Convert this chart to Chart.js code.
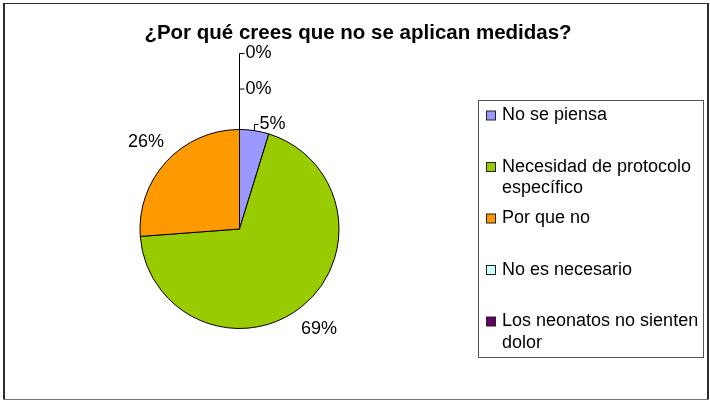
<!DOCTYPE html>
<html>
<head>
<meta charset="utf-8">
<script src="https://cdn.jsdelivr.net/npm/chart.js@4/dist/chart.umd.min.js"></script>
<style>
  html, body { margin: 0; padding: 0; background: #fff; }
  #wrap { width: 710px; height: 401px; position: relative; }
</style>
</head>
<body>
<div id="wrap"><canvas id="grafico"></canvas></div>
<script>
const titulo = '¿Por qué crees que no se aplican medidas?';
const categorias = ['No se piensa', 'Necesidad de protocolo específico', 'Por que no', 'No es necesario', 'Los neonatos no sienten dolor'];
const respuestas = [2, 29, 11, 0, 0];
const colores = ['#9999FF', '#99CC00', '#FF9900', '#CCFFFF', '#660066'];

const FUENTE = '"Liberation Sans", Arial, sans-serif';

// marco exterior, titulo, etiquetas con lineas guia y leyenda
const dibujoExtra = {
    id: 'dibujoExtra',
    afterDraw(chart) {
        const ctx = chart.ctx;
        const total = respuestas.reduce((a, b) => a + b, 0);
        ctx.save();

        // marco
        ctx.fillStyle = '#2b2b2b';
        ctx.fillRect(3, 3, 2, 397);
        ctx.fillRect(707, 3, 2, 397);
        ctx.fillRect(3, 3, 706, 1);
        ctx.fillStyle = '#777';
        ctx.fillRect(3, 399, 706, 1);

        // titulo
        ctx.fillStyle = '#000';
        ctx.font = 'bold 20.5px ' + FUENTE;
        ctx.textAlign = 'center';
        ctx.textBaseline = 'middle';
        ctx.fillText(titulo, 358, 33);

        // etiquetas de porcentaje
        const arcos = chart.getDatasetMeta(0).data;
        ctx.font = '18px ' + FUENTE;
        ctx.textBaseline = 'middle';
        ctx.strokeStyle = '#000';
        ctx.lineWidth = 1;
        let pilaY = null, topeX = null, topeY = null;
        arcos.forEach((arc, i) => {
            const pct = Math.round(respuestas[i] / total * 100) + '%';
            const medio = (arc.startAngle + arc.endAngle) / 2;
            const r = arc.outerRadius;
            const barrido = arc.endAngle - arc.startAngle;
            if (barrido > 0.6) {
                const d = r + 28;
                ctx.textAlign = 'center';
                ctx.fillText(pct, arc.x + Math.cos(medio) * d, arc.y + Math.sin(medio) * d);
            } else if (barrido > 0) {
                const px = Math.round(arc.x + Math.cos(medio) * r) + 0.5;
                const py = arc.y + Math.sin(medio) * r;
                const ly = Math.round(py - 7) + 0.5;
                ctx.beginPath();
                ctx.moveTo(px, py);
                ctx.lineTo(px, ly);
                ctx.lineTo(px + 4, ly);
                ctx.stroke();
                ctx.textAlign = 'left';
                ctx.fillText(pct, px + 5, ly);
                pilaY = ly;
            } else {
                if (topeX === null) {
                    topeX = Math.round(arc.x + Math.cos(arc.startAngle) * r) + 0.5;
                    topeY = arc.y + Math.sin(arc.startAngle) * r;
                }
                pilaY = (pilaY === null ? topeY - 7 : pilaY) - 35.5;
                ctx.beginPath();
                ctx.moveTo(topeX, topeY);
                ctx.lineTo(topeX, pilaY);
                ctx.lineTo(topeX + 5, pilaY);
                ctx.stroke();
                ctx.textAlign = 'left';
                ctx.fillText(pct, topeX + 6, pilaY);
            }
        });

        // leyenda
        const caja = { x: 478.5, y: 100.5, w: 225, h: 257 };
        ctx.strokeStyle = '#555';
        ctx.strokeRect(caja.x, caja.y, caja.w, caja.h);
        ctx.textAlign = 'left';
        const anchoMax = 202;
        categorias.forEach((cat, i) => {
            const filaY = 115.5 + i * 51.5;
            ctx.fillStyle = colores[i];
            ctx.fillRect(486.5, filaY - 4.5, 9, 9);
            ctx.strokeStyle = '#222';
            ctx.strokeRect(486.5, filaY - 4.5, 9, 9);
            // partir el texto en lineas
            const palabras = cat.split(' ');
            const lineas = [];
            let actual = '';
            palabras.forEach(p => {
                const prueba = actual ? actual + ' ' + p : p;
                if (ctx.measureText(prueba).width > anchoMax && actual) {
                    lineas.push(actual);
                    actual = p;
                } else {
                    actual = prueba;
                }
            });
            lineas.push(actual);
            ctx.fillStyle = '#000';
            lineas.forEach((l, k) => ctx.fillText(l, 502, filaY + k * 21.5));
        });

        ctx.restore();
    }
};

new Chart(document.getElementById('grafico'), {
    type: 'pie',
    data: {
        labels: categorias,
        datasets: [{
            data: respuestas,
            backgroundColor: colores,
            borderColor: '#000',
            borderWidth: 1
        }]
    },
    options: {
        responsive: true,
        maintainAspectRatio: false,
        animation: false,
        layout: { padding: { left: 139, right: 370, top: 129, bottom: 72 } },
        plugins: {
            legend: { display: false },
            tooltip: { enabled: false },
            title: { display: false }
        }
    },
    plugins: [dibujoExtra]
});
</script>
</body>
</html>
